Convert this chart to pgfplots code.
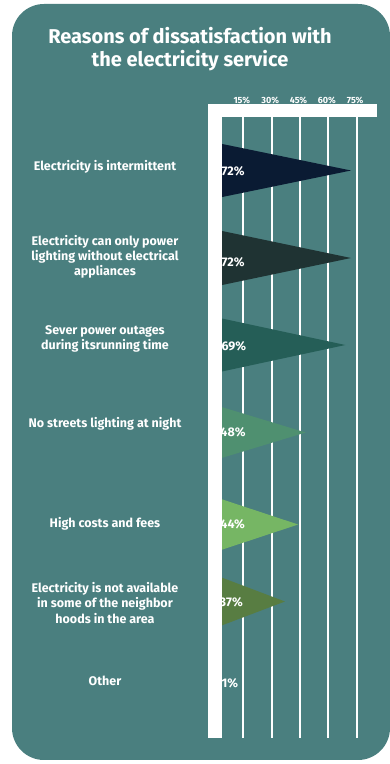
\documentclass[border=0pt]{standalone}
\usepackage{pgfplots}
\pgfplotsset{compat=1.18}
\usepackage{fontspec}
\setmainfont{Fira Sans}
\definecolor{bg}{HTML}{4A7F7F}
\definecolor{c1}{HTML}{0A1B33}
\definecolor{c2}{HTML}{1F3333}
\definecolor{c3}{HTML}{255E57}
\definecolor{c4}{HTML}{4F9070}
\definecolor{c5}{HTML}{76B664}
\definecolor{c6}{HTML}{587D42}
\begin{document}
\begin{tikzpicture}[x=1pt,y=1pt]
\useasboundingbox (0,0) rectangle (390,764);
\fill[bg, rounded corners=32pt] (12,4) rectangle (390,760);
\begin{axis}[
  at={(215pt,26pt)}, anchor=south west,
  scale only axis, width=162pt, height=621pt,
  xmin=0, xmax=85.76, ymin=117, ymax=738, y dir=reverse,
  clip=false,
  /pgf/number format/assume math mode=true,
  axis line style={draw=none},
  xtick={15,30,45,60,75},
  xticklabel={\pgfmathprintnumber{\tick}\%},
  xticklabel pos=upper,
  major tick length=0pt,
  xmajorgrids, major grid style={white, line width=1.7pt},
  ytick={167,257,339,424,524,603,681},
  yticklabels={Electricity is intermittent,
    {Electricity can only power\\lighting without electrical\\appliances},
    {Sever power outages\\during itsrunning time},
    No streets lighting at night,
    High costs and fees,
    {Electricity is not available\\in some of the neighbor\\hoods in the area},
    Other},
  yticklabel style={anchor=center, xshift=-110pt, align=center, white,
    font=\bfseries\fontsize{12.5}{15.3}\selectfont},
  xticklabel style={white, font=\bfseries\fontsize{9}{10}\selectfont, yshift=10pt, xshift=-1.5pt},
  every node near coord/.append style={white, inner sep=0pt,
    font=\bfseries\fontsize{12.5}{13}\selectfont},
]
\addplot[fill=c1, draw=none] coordinates {(0,142.5) (72,170.5) (0,198.5)};
\addplot[fill=c2, draw=none] coordinates {(0,229.5) (72,258) (0,286.5)};
\addplot[fill=c3, draw=none] coordinates {(0,317) (69,345) (0,373)};
\addplot[fill=c4, draw=none] coordinates {(0,405) (48,432.5) (0,460)};
\addplot[fill=c5, draw=none] coordinates {(0,497) (44,524.5) (0,552)};
\addplot[fill=c6, draw=none] coordinates {(0,575) (37,601.5) (0,628)};
\addplot[fill=c6, draw=none] coordinates {(0,655) (1,683) (0,711)};
\addplot[draw=none, mark=none, point meta=explicit,
  nodes near coords={\pgfmathprintnumber{\pgfplotspointmeta}\%},
  nodes near coords align=horizontal]
  coordinates {(3.4,171) [72] (3.4,262) [72] (3.4,346) [69] (2.8,432) [48]
    (2.8,524) [44] (2.4,602) [37] (3.4,683) [1]};
\fill[white] (axis cs:-3.71,104) rectangle (axis cs:3.55,738);
\fill[white] (axis cs:-3.71,104) rectangle (axis cs:85.76,117);
\end{axis}
\node[white, align=center, font=\bfseries\fontsize{20}{23}\selectfont] at (190,714.5)
  {Reasons of dissatisfaction with\\the electricity service};
\end{tikzpicture}
\end{document}
